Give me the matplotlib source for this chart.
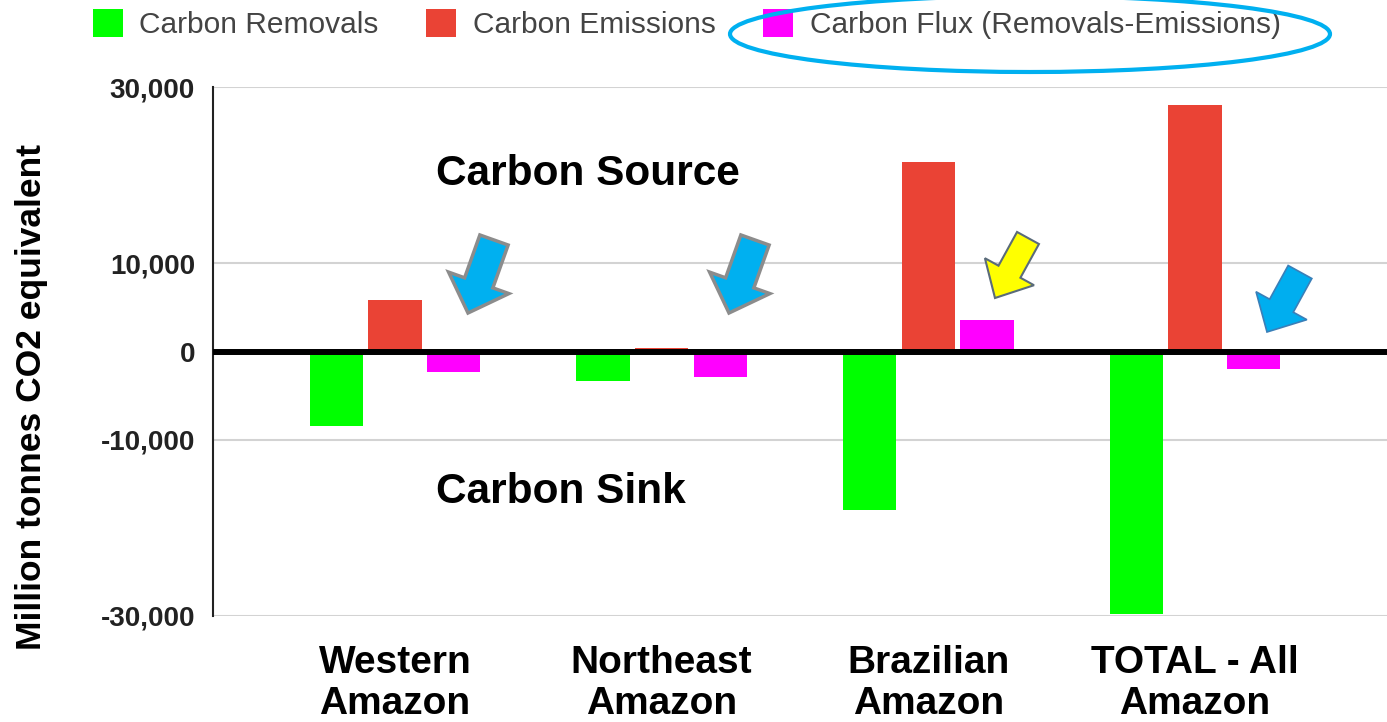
import matplotlib
matplotlib.use('Agg')
import matplotlib.pyplot as plt
import numpy as np
from matplotlib.patches import FancyArrow, Ellipse

# values (million tonnes CO2 eq)
regions = ['Western\nAmazon', 'Northeast\nAmazon', 'Brazilian\nAmazon', 'TOTAL - All\nAmazon']
removals = [-8400, -3400, -18000, -29800]
emissions = [5800, 400, 21500, 28000]
flux = [-2300, -2900, 3600, -2000]
names = ['Carbon Removals', 'Carbon Emissions', 'Carbon Flux (Removals-Emissions)']
colors = ['#00ff00', '#ea4335', '#ff00ff']
yticks = [-30000, -10000, 0, 10000, 30000]
ylabels = ['-30,000', '-10,000', '0', '10,000', '30,000']

plt.rcParams['font.family'] = ['Liberation Sans', 'DejaVu Sans']

W, H = 1387, 722
fig = plt.figure(figsize=(W / 100, H / 100), dpi=100)
ax = fig.add_axes([213 / W, 106 / H, 1 - 213 / W, 529 / H])

x = np.arange(len(regions))
bw, off = 0.2, 0.22
b1 = ax.bar(x - off, removals, bw, color=colors[0], label=names[0], zorder=2)
b2 = ax.bar(x, emissions, bw, color=colors[1], label=names[1], zorder=2)
b3 = ax.bar(x + off, flux, bw, color=colors[2], label=names[2], zorder=2)

ax.set_xlim(-0.682, 3.72)
ax.set_ylim(-30000, 30000)
for v in yticks:
    if v != 0:
        ax.axhline(v, color='#d3d3d3', lw=1.5, zorder=0)
ax.axhline(0, color='black', lw=4.3, zorder=3)

ax.set_yticks(yticks)
ax.set_yticklabels(ylabels, fontsize=20, fontweight='bold', color='#222222')
ax.set_xticks(x)
ax.set_xticklabels(regions, fontsize=28, fontweight='bold', linespacing=1.18)
ax.tick_params(axis='y', length=0, pad=13)
ax.tick_params(axis='x', length=0, pad=21)
for s in ['top', 'right', 'bottom']:
    ax.spines[s].set_visible(False)
ax.spines['left'].set_color('#222222')
ax.spines['left'].set_linewidth(1.5)

fig.text(32 / W, 1 - 397 / H, 'Million tonnes CO2 equivalent', rotation=90,
         ha='center', va='center', fontsize=25.5, fontweight='bold')

leg = ax.legend(handles=[b1, b2, b3], loc='upper left', bbox_to_anchor=(93 / W, 1 - 9 / H),
                bbox_transform=fig.transFigure, ncol=3, frameon=False, fontsize=21.5,
                handlelength=1.0, handleheight=1.05, handletextpad=0.55,
                columnspacing=1.6, borderpad=0, borderaxespad=0)
for t in leg.get_texts():
    t.set_color('#444444')

# annotation overlay in pixel coords
ov = fig.add_axes([0, 0, 1, 1], zorder=5)
ov.set_xlim(0, W)
ov.set_ylim(H, 0)
ov.axis('off')

ov.add_patch(Ellipse((1030, 34), 600, 76, fill=False, ec='#00b0f0', lw=3))
ov.text(436, 174, 'Carbon Source', fontsize=30.5, fontweight='bold', ha='left', va='center')
ov.text(436, 492, 'Carbon Sink', fontsize=30.5, fontweight='bold', ha='left', va='center')

for tx in [494, 755]:
    ov.add_patch(FancyArrow(tx, 240, -26, 73, width=30, head_width=64, head_length=32,
                            length_includes_head=True, fc='#00b0f0', ec='#8c8c8c', lw=2.5))
ov.add_patch(FancyArrow(1028, 238, -33, 60, width=25, head_width=56, head_length=30,
                        length_includes_head=True, fc='#ffff00', ec='#5a6b7a', lw=1.5))
ov.add_patch(FancyArrow(1300, 272, -33, 60, width=27, head_width=58, head_length=30,
                        length_includes_head=True, fc='#00aeef', ec='#3a7fb8', lw=1.2))

fig.savefig('out.png', dpi=100, facecolor='white')
